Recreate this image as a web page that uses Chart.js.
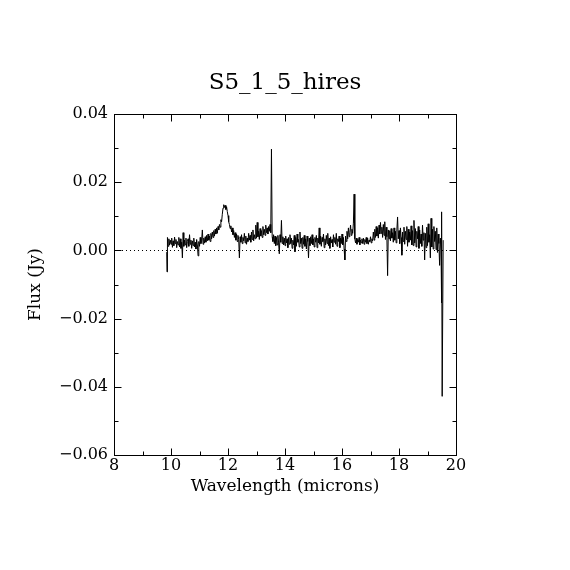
<!DOCTYPE html>
<html>
<head>
<meta charset="utf-8">
<script src="https://cdn.jsdelivr.net/npm/chart.js@4.4.0/dist/chart.umd.min.js"></script>
<style>
  html, body { margin: 0; padding: 0; background: #fff; }
  canvas { display: block; }
</style>
</head>
<body>
<canvas id="spectrum" width="570" height="570"></canvas>
<script>
// Spectrum: wavelength (microns) and flux (Jy)
const wavelength = [
  9.850, 9.860, 9.875, 9.900, 9.925, 9.950, 9.975,
  10.000, 10.025, 10.050, 10.075, 10.100, 10.125, 10.150, 10.175,
  10.200, 10.225, 10.250, 10.275, 10.300, 10.325, 10.350, 10.375,
  10.400, 10.425, 10.450, 10.475, 10.500, 10.525, 10.550, 10.575,
  10.600, 10.625, 10.650, 10.675, 10.700, 10.725, 10.750, 10.775,
  10.800, 10.825, 10.850, 10.875, 10.900, 10.925, 10.950, 10.975,
  11.000, 11.025, 11.050, 11.075, 11.100, 11.125, 11.150, 11.175,
  11.200, 11.225, 11.250, 11.275, 11.300, 11.325, 11.350, 11.375,
  11.400, 11.425, 11.450, 11.475, 11.500, 11.525, 11.550, 11.575,
  11.600, 11.625, 11.650, 11.675, 11.700, 11.725, 11.750, 11.775,
  11.800, 11.825, 11.850, 11.875, 11.900, 11.925, 11.950, 11.975,
  12.000, 12.025, 12.050, 12.075, 12.100, 12.125, 12.150, 12.175,
  12.200, 12.225, 12.250, 12.275, 12.300, 12.325, 12.350, 12.375,
  12.400, 12.425, 12.450, 12.475, 12.500, 12.525, 12.550, 12.575,
  12.600, 12.625, 12.650, 12.675, 12.700, 12.725, 12.750, 12.775,
  12.800, 12.825, 12.850, 12.875, 12.900, 12.925, 12.950, 12.975,
  13.000, 13.025, 13.050, 13.075, 13.100, 13.125, 13.150, 13.175,
  13.200, 13.225, 13.250, 13.275, 13.300, 13.325, 13.350, 13.375,
  13.400, 13.425, 13.450, 13.475, 13.500, 13.525, 13.550, 13.575,
  13.600, 13.625, 13.650, 13.675, 13.700, 13.725, 13.750, 13.775,
  13.800, 13.825, 13.850, 13.875, 13.900, 13.925, 13.950, 13.975,
  14.000, 14.025, 14.050, 14.075, 14.100, 14.125, 14.150, 14.175,
  14.200, 14.225, 14.250, 14.275, 14.300, 14.325, 14.350, 14.375,
  14.400, 14.425, 14.450, 14.475, 14.500, 14.525, 14.550, 14.575,
  14.600, 14.625, 14.650, 14.675, 14.700, 14.725, 14.750, 14.775,
  14.800, 14.825, 14.850, 14.875, 14.900, 14.925, 14.950, 14.975,
  15.000, 15.025, 15.050, 15.075, 15.100, 15.125, 15.150, 15.175,
  15.200, 15.225, 15.250, 15.275, 15.300, 15.325, 15.350, 15.375,
  15.400, 15.425, 15.450, 15.475, 15.500, 15.525, 15.550, 15.575,
  15.600, 15.625, 15.650, 15.675, 15.700, 15.725, 15.750, 15.775,
  15.800, 15.825, 15.850, 15.875, 15.900, 15.925, 15.950, 15.975,
  16.000, 16.025, 16.050, 16.075, 16.100, 16.125, 16.150, 16.175,
  16.200, 16.225, 16.250, 16.275, 16.300, 16.325, 16.350, 16.375,
  16.400, 16.425, 16.450, 16.475, 16.500, 16.525, 16.550, 16.575,
  16.600, 16.625, 16.650, 16.675, 16.700, 16.725, 16.750, 16.775,
  16.800, 16.825, 16.850, 16.875, 16.900, 16.925, 16.950, 16.975,
  17.000, 17.025, 17.050, 17.075, 17.100, 17.125, 17.150, 17.175,
  17.200, 17.225, 17.250, 17.275, 17.300, 17.325, 17.350, 17.375,
  17.400, 17.425, 17.450, 17.475, 17.500, 17.525, 17.550, 17.575,
  17.600, 17.625, 17.650, 17.675, 17.700, 17.725, 17.750, 17.775,
  17.800, 17.825, 17.850, 17.875, 17.900, 17.925, 17.950, 17.975,
  18.000, 18.025, 18.050, 18.075, 18.100, 18.125, 18.150, 18.175,
  18.200, 18.225, 18.250, 18.275, 18.300, 18.325, 18.350, 18.375,
  18.400, 18.425, 18.450, 18.475, 18.500, 18.525, 18.550, 18.575,
  18.600, 18.625, 18.650, 18.675, 18.700, 18.725, 18.750, 18.775,
  18.800, 18.825, 18.850, 18.875, 18.900, 18.925, 18.950, 18.975,
  19.000, 19.025, 19.050, 19.075, 19.100, 19.125, 19.150, 19.175,
  19.200, 19.225, 19.250, 19.275, 19.300, 19.325, 19.350, 19.375,
  19.400, 19.425, 19.450, 19.475, 19.490, 19.500, 19.515, 19.550
];
const flux = [
  -0.0005, -0.0063, 0.0038, 0.0012, 0.0034, 0.0016, 0.0030,
  0.0018, 0.0036, 0.0009, 0.0028, 0.0014, 0.0039, 0.0020, 0.0032,
  0.0008, 0.0026, 0.0016, 0.0038, 0.0010, 0.0034, 0.0006, 0.0024,
  -0.0022, 0.0052, 0.0012, 0.0030, 0.0016, 0.0036, 0.0008, 0.0026,
  0.0034, 0.0012, 0.0046, 0.0018, 0.0030, 0.0006, 0.0028, 0.0014,
  0.0036, 0.0010, 0.0024, 0.0004, 0.0032, 0.0016, -0.0016, 0.0026,
  0.0012, 0.0038, 0.0020, 0.0030, 0.0060, 0.0018, 0.0036, 0.0022,
  0.0040, 0.0024, 0.0044, 0.0028, 0.0048, 0.0030, 0.0042, 0.0026,
  0.0050, 0.0034, 0.0054, 0.0038, 0.0058, 0.0042, 0.0062, 0.0048,
  0.0066, 0.0050, 0.0070, 0.0060, 0.0076, 0.0068, 0.0090, 0.0084,
  0.0106, 0.0124, 0.0134, 0.0126, 0.0132, 0.0120, 0.0128, 0.0114,
  0.0102, 0.0084, 0.0076, 0.0064, 0.0072, 0.0054, 0.0066, 0.0046,
  0.0058, 0.0038, 0.0052, 0.0030, 0.0048, 0.0026, 0.0044, 0.0032,
  -0.0022, 0.0040, 0.0024, 0.0046, 0.0020, 0.0038, 0.0028, 0.0050,
  0.0022, 0.0042, 0.0018, 0.0036, 0.0026, 0.0050, 0.0030, 0.0044,
  0.0024, 0.0054, 0.0032, 0.0060, 0.0028, 0.0046, 0.0034, 0.0074,
  0.0036, 0.0082, 0.0040, 0.0056, 0.0032, 0.0064, 0.0042, 0.0058,
  0.0038, 0.0070, 0.0046, 0.0062, 0.0044, 0.0074, 0.0052, 0.0066,
  0.0048, 0.0070, 0.0056, 0.0076, 0.0052, 0.0297, 0.0040, 0.0026,
  0.0046, 0.0020, 0.0042, 0.0014, 0.0038, 0.0016, 0.0044, 0.0022,
  -0.0010, 0.0046, 0.0024, 0.0088, 0.0020, 0.0040, 0.0016, 0.0036,
  0.0014, 0.0042, 0.0022, 0.0034, 0.0008, 0.0038, 0.0018, 0.0046,
  0.0020, 0.0036, 0.0006, 0.0030, 0.0016, 0.0044, -0.0004, 0.0038,
  0.0012, 0.0048, 0.0024, 0.0032, 0.0010, 0.0054, 0.0020, 0.0036,
  0.0006, 0.0038, 0.0018, 0.0044, 0.0012, 0.0034, 0.0004, 0.0042,
  0.0026, -0.0022, 0.0036, 0.0014, 0.0040, 0.0020, 0.0046, 0.0016,
  0.0034, 0.0010, 0.0038, 0.0024, 0.0044, 0.0008, 0.0036, 0.0022,
  0.0066, 0.0018, 0.0042, 0.0012, 0.0038, 0.0026, 0.0048, 0.0008,
  0.0034, 0.0016, 0.0044, 0.0020, 0.0050, 0.0014, 0.0036, 0.0006,
  0.0040, 0.0022, 0.0032, 0.0010, 0.0046, 0.0024, 0.0038, 0.0018,
  0.0050, 0.0012, 0.0034, 0.0026, 0.0042, 0.0008, 0.0036, 0.0020,
  0.0048, 0.0016, 0.0038, 0.0004, -0.0028, 0.0042, 0.0026, 0.0056,
  0.0034, 0.0066, 0.0040, 0.0052, 0.0074, 0.0044, 0.0062, 0.0050,
  0.0080, 0.0165, 0.0034, 0.0022, 0.0036, 0.0018, 0.0032, 0.0024,
  0.0038, 0.0016, 0.0030, 0.0022, 0.0034, 0.0020, 0.0036, 0.0018,
  0.0032, 0.0024, 0.0038, 0.0020, 0.0036, 0.0018, 0.0030, 0.0026,
  0.0040, 0.0022, 0.0034, 0.0028, 0.0054, 0.0030, 0.0062, 0.0038,
  0.0070, 0.0042, 0.0066, 0.0036, 0.0074, 0.0048, 0.0082, 0.0050,
  0.0068, 0.0038, 0.0076, 0.0044, 0.0084, 0.0032, 0.0068, 0.0040,
  -0.0074, 0.0060, 0.0034, 0.0058, 0.0028, 0.0064, 0.0036, 0.0052,
  0.0024, 0.0066, 0.0030, 0.0056, 0.0022, 0.0060, 0.0098, 0.0034,
  0.0058, 0.0020, 0.0066, 0.0038, -0.0014, 0.0054, 0.0026, 0.0068,
  0.0018, 0.0056, 0.0032, 0.0070, 0.0012, 0.0062, 0.0024, 0.0054,
  0.0030, 0.0072, 0.0016, 0.0058, 0.0014, 0.0088, 0.0022, 0.0064,
  0.0010, 0.0056, 0.0034, 0.0070, 0.0006, 0.0060, 0.0020, 0.0048,
  0.0012, 0.0074, 0.0030, 0.0052, -0.0028, 0.0050, 0.0008, 0.0068,
  0.0014, 0.0078, 0.0024, 0.0046, -0.0022, 0.0094, 0.0010, 0.0062,
  0.0004, 0.0070, 0.0026, 0.0056, 0.0002, 0.0066, -0.0006, 0.0048,
  0.0020, -0.0044, 0.0036, 0.0000, -0.0154, 0.0113, -0.0428, 0.0030
];

const titleText = 'S5_1_5_hires';
const xTitle = 'Wavelength (microns)';
const yTitle = 'Flux (Jy)';
const xMajorTicks = [8, 10, 12, 14, 16, 18, 20];
const xMinorTicks = [9, 11, 13, 15, 17, 19];
const yMajorTicks = [-0.06, -0.04, -0.02, 0.00, 0.02, 0.04];
const yMinorTicks = [-0.05, -0.03, -0.01, 0.01, 0.03];
const yTickLabels = ['\u22120.06', '\u22120.04', '\u22120.02', '0.00', '0.02', '0.04'];

const serif = '"DejaVu Serif", "Liberation Serif", serif';

// inward ticks on all four sides, frame and dotted zero line
const framePlugin = {
  id: 'frame',
  beforeDatasetsDraw(chart) {
    const { ctx, chartArea: a, scales } = chart;
    const y0 = Math.round(scales.y.getPixelForValue(0)) + 0.5;
    ctx.save();
    ctx.strokeStyle = '#000';
    ctx.lineWidth = 1;
    ctx.setLineDash([1, 3]);
    ctx.beginPath();
    ctx.moveTo(a.left, y0);
    ctx.lineTo(a.right, y0);
    ctx.stroke();
    ctx.restore();
  },
  afterDatasetsDraw(chart) {
    const { ctx, chartArea: a, scales } = chart;
    const l = Math.round(a.left) + 0.5, r = Math.round(a.right) + 0.5;
    const t = Math.round(a.top) + 0.5, b = Math.round(a.bottom) + 0.5;
    ctx.save();
    ctx.strokeStyle = '#000';
    ctx.lineWidth = 1;
    ctx.strokeRect(l, t, r - l, b - t);
    ctx.beginPath();
    const xt = (v, len) => {
      const px = Math.round(scales.x.getPixelForValue(v)) + 0.5;
      ctx.moveTo(px, b); ctx.lineTo(px, b - len);
      ctx.moveTo(px, t); ctx.lineTo(px, t + len);
    };
    const yt = (v, len) => {
      const py = Math.round(scales.y.getPixelForValue(v)) + 0.5;
      ctx.moveTo(l, py); ctx.lineTo(l + len, py);
      ctx.moveTo(r, py); ctx.lineTo(r - len, py);
    };
    xMajorTicks.forEach(v => xt(v, 7));
    xMinorTicks.forEach(v => xt(v, 4));
    yMajorTicks.forEach(v => yt(v, 7));
    yMinorTicks.forEach(v => yt(v, 4));
    ctx.stroke();
    ctx.restore();
  }
};

new Chart(document.getElementById('spectrum'), {
  type: 'line',
  data: {
    datasets: [{
      data: wavelength.map((w, i) => ({ x: w, y: flux[i] })),
      borderColor: '#000',
      borderWidth: 1,
      pointRadius: 0,
      tension: 0,
      fill: false
    }]
  },
  options: {
    responsive: false,
    animation: false,
    layout: { padding: 0 },
    plugins: {
      legend: { display: false },
      tooltip: { enabled: false },
      title: {
        display: true,
        text: titleText,
        color: '#000',
        font: { family: serif, size: 23, weight: 'normal' },
        padding: { top: 69.2, bottom: 17.2 }
      }
    },
    scales: {
      x: {
        type: 'linear',
        min: 8,
        max: 20,
        afterBuildTicks: s => { s.ticks = xMajorTicks.map(v => ({ value: v })); },
        afterFit: s => { s.height = 115; },
        grid: { display: false, drawTicks: false },
        border: { display: false },
        ticks: {
          color: '#000',
          padding: 1,
          maxRotation: 0,
          font: { family: serif, size: 16 },
          callback: v => String(v)
        },
        title: {
          display: true,
          text: xTitle,
          color: '#000',
          font: { family: serif, size: 17 },
          padding: { top: 0, bottom: 72.8 }
        }
      },
      y: {
        type: 'linear',
        min: -0.06,
        max: 0.04,
        afterBuildTicks: s => { s.ticks = yMajorTicks.map(v => ({ value: v })); },
        afterFit: s => { s.width = 114; },
        grid: { display: false, drawTicks: false },
        border: { display: false },
        ticks: {
          color: '#000',
          padding: 6,
          font: { family: serif, size: 16 },
          callback: (v, i) => yTickLabels[i]
        },
        title: {
          display: true,
          text: yTitle,
          color: '#000',
          font: { family: serif, size: 17 },
          padding: { top: 25.8, bottom: 0 }
        }
      },
      // empty right-hand axis that keeps the plot box square on the page
      spacer: {
        type: 'linear',
        position: 'right',
        min: -0.06,
        max: 0.04,
        afterFit: s => { s.width = 114; },
        grid: { display: false },
        border: { display: false },
        ticks: { display: false }
      }
    }
  },
  plugins: [framePlugin]
});
</script>
</body>
</html>
